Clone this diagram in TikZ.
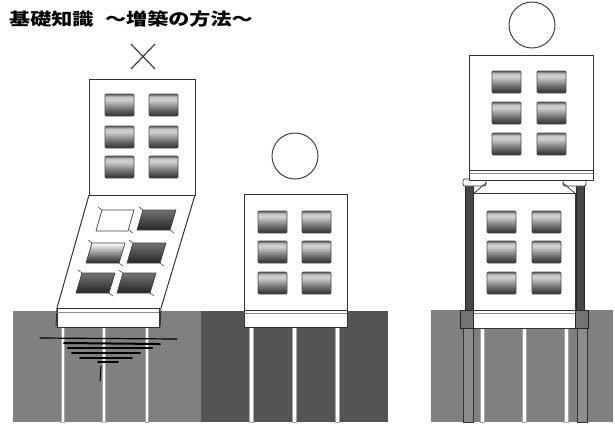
\documentclass[tikz,border=0pt]{standalone}
\usepackage{fontspec}
\newfontfamily\jpfont{Noto Sans CJK JP}
% glass: dark rim at the top, bright band, darkening towards the sill
\pgfdeclareverticalshading{glassshade}{100bp}{color(0bp)=(black!80); color(25bp)=(black!82);
  color(42bp)=(black!55); color(62bp)=(black!18); color(69bp)=(black!22);
  color(75bp)=(black!65); color(100bp)=(black!65)}
\begin{document}
\begin{tikzpicture}[x=1pt,y=-1pt,
  wall/.style={draw=black!80,line width=1pt,fill=white},
  win/.style={draw=black!70,line width=0.7pt,rounded corners=1pt,shade,shading=glassshade},
  skwin/.style={draw=black!75,line width=0.7pt,
    top color=black!55,middle color=black!30,bottom color=black!85},
  tick/.style={draw=black!70,line width=0.6pt},
  pile/.style={fill=white,draw=black!35,line width=0.3pt},
  newpile/.style={fill=black!45,draw=black!80,line width=0.8pt},
  colbar/.style={fill=black!72,draw=black!85,line width=0.5pt},
  verdict/.style={draw=black!75,line width=1pt,circle,minimum size=46pt,inner sep=0pt},
  sink/.style={draw=black,line cap=round},
  band/.style={draw=black!45,line width=0.8pt}
]
\useasboundingbox (0,0) rectangle (615,424);

% title
\node[anchor=west,font=\jpfont\bfseries\fontsize{17}{17}\selectfont,xscale=1.24,inner sep=0pt]
  (title) at (9,19.5) {基礎知識\hspace{0.55em}～増築の方法～};

% ground blocks
\fill[black!50] (13,311) rectangle (201,422);
\fill[black!67] (201,311) rectangle (388,422);
\fill[black!50] (431,310) rectangle (613,422);

% ---------------- left: extension stacked on a weak base ----------------
\foreach \px in {63,104,147}
  \path[pile] (\px-1.6,327) rectangle (\px+1.6,422);

% sinking marks under the footing
\draw[sink,line width=1.2pt] (40,338) -- (177,339);
\draw[sink,line width=2pt] (64,343) -- (160,344);
\draw[sink,line width=2.4pt] (68,348) -- (152,348);
\draw[sink,line width=2pt] (72,353) -- (140,353);
\draw[sink,line width=1.6pt] (80,358) -- (132,358);
\draw[sink,line width=1.6pt] (98,362) -- (118,362);
\draw[sink,line width=1pt] (101,366) -- (100,381);

% tilted lower storeys
\path[fill=white] (89,195) -- (195,195) -- (161,309) -- (57,309) -- cycle;
\draw[draw=black!80,line width=1pt] (89,195) -- (57,308) -- (56,327);
\draw[draw=black!80,line width=1pt] (195,195) -- (161,308) -- (160,327);
\path[wall] (57,308) rectangle (159,327);
\draw[band] (57,312) -- (159,312);

% skewed windows
\path[draw=black!75,line width=0.7pt,fill=white]
  (102,210) -- ++(32,0) -- ++(-6,21) -- ++(-32,0) -- cycle;
\path[draw=black!75,line width=0.7pt,top color=white,middle color=black!35,bottom color=black!85]
  (92,243) -- ++(33,0) -- ++(-6,20) -- ++(-33,0) -- cycle;
\foreach \wx/\wy in {143/210,133/243,82/273,123/273}
  \path[skwin] (\wx,\wy) -- ++(33,0) -- ++(-6,20) -- ++(-33,0) -- cycle;
\foreach \wx/\wy in {102/210,143/210,92/243,133/243,82/273,123/273} {
  \draw[tick] (\wx,\wy) -- ++(-4,-3);
  \draw[tick] (\wx+27,\wy+20) -- ++(4,3);
}

% upper storeys
\path[wall] (89,79) rectangle (195,195);
\foreach \cx in {105,149} \foreach \cy in {94,126,156}
  \path[win] (\cx,\cy) rectangle ++(29,22);

% cross mark
\draw[draw=black!75,line width=1.2pt] (131,44) -- (155,69) (155,44) -- (131,69);

% ---------------- middle: building on sound piles ----------------
\foreach \px in {251,294,337}
  \path[pile] (\px-2,327) rectangle (\px+2,422);
\path[wall] (244,194) rectangle (347,310);
\path[wall] (244,310) rectangle (347,327);
\draw[band] (244,313) -- (347,313);
\foreach \cx in {258,302} \foreach \cy in {211,241,272}
  \path[win] (\cx,\cy) rectangle ++(29,22);
\node[verdict] (okmid) at (295,156) {};

% ---------------- right: extension carried by new columns ----------------
\foreach \px in {482,524,566}
  \path[pile] (\px-2,328) rectangle (\px+2,422);
\path[newpile] (463,328) rectangle (473,422);
\path[newpile] (577,328) rectangle (587,422);

% existing lower building
\path[wall] (473,193) rectangle (575,310);
\path[wall] (473,310) rectangle (575,328);
\draw[band] (473,313) -- (575,313);
\foreach \cx in {487,532} \foreach \cy in {211,241,272}
  \path[win] (\cx,\cy) rectangle ++(29,22);

% new columns and their footings
\path[colbar] (465,184) rectangle (473,310);
\path[colbar] (576,184) rectangle (584,310);
\path[fill=black!55,draw=black!85,line width=0.8pt] (460,310) rectangle (473,328);
\path[fill=black!55,draw=black!85,line width=0.8pt] (575,310) rectangle (588,328);

% column heads
\path[draw=black!80,line width=0.7pt,fill=white,rounded corners=2pt] (463,179) rectangle (486,186);
\draw[draw=black!80,line width=0.7pt] (486,183) -- (473,194);
\path[draw=black!80,line width=0.7pt,fill=white,rounded corners=2pt] (563,179) rectangle (586,186);
\draw[draw=black!80,line width=0.7pt] (563,183) -- (576,194);

% new upper storeys
\path[wall] (469,55) rectangle (593,180);
\draw[band] (469,173) -- (593,173);
\draw[draw=black!80,line width=1pt] (469,170) -- (593,170);
\foreach \cx in {492,537} \foreach \cy in {71,102,133}
  \path[win] (\cx,\cy) rectangle ++(29,22);
\node[verdict] (okright) at (532,25) {};

\end{tikzpicture}
\end{document}
